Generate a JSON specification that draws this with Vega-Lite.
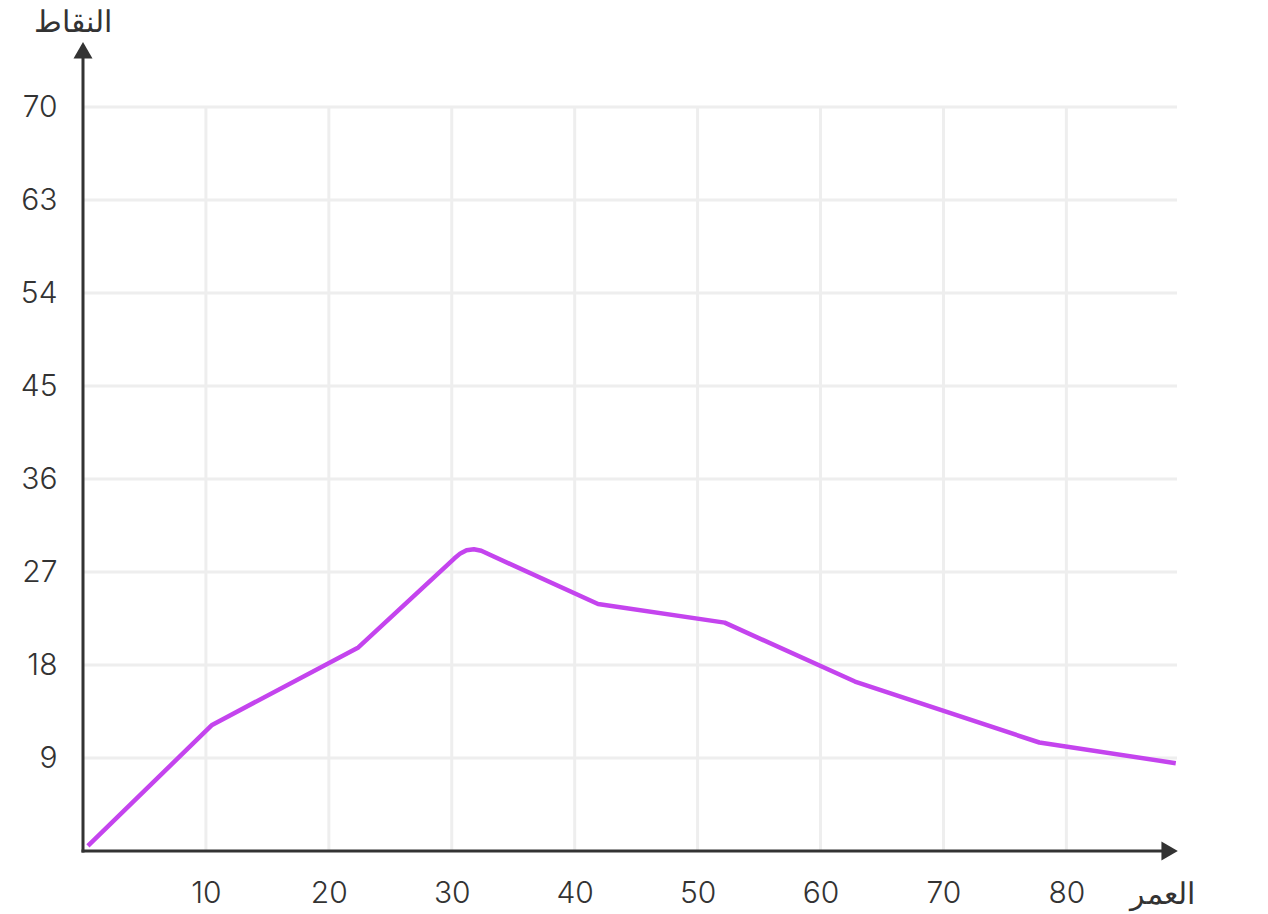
{
  "$schema": "https://vega.github.io/schema/vega-lite/v6.json",
  "width": 1094,
  "height": 806,
  "autosize": {"type": "none"},
  "padding": {"left": 83, "top": 45, "right": 91, "bottom": 63},
  "background": "white",
  "config": {"view": {"stroke": null}},
  "datasets": {
    "gridx": [{"v": 10}, {"v": 20}, {"v": 30}, {"v": 40}, {"v": 50}, {"v": 60}, {"v": 70}, {"v": 80}],
    "gridy": [{"v": 9}, {"v": 18}, {"v": 27}, {"v": 36}, {"v": 45}, {"v": 54}, {"v": 63}, {"v": 72}],
    "axes": [{"x1": 0, "y1": 0, "x2": 88.4, "y2": 0}, {"x1": 0, "y1": 0, "x2": 0, "y2": 77.5}],
    "series": [
      {"age": 0.4, "points": 0.5},
      {"age": 10.5, "points": 12.2},
      {"age": 22.4, "points": 19.7},
      {"age": 30.2, "points": 28.3},
      {"age": 30.7, "points": 28.8},
      {"age": 31.2, "points": 29.1},
      {"age": 31.8, "points": 29.2},
      {"age": 32.4, "points": 29.05},
      {"age": 41.9, "points": 23.9},
      {"age": 52.2, "points": 22.1},
      {"age": 62.8, "points": 16.4},
      {"age": 77.8, "points": 10.5},
      {"age": 88.9, "points": 8.5}
    ],
    "arrowx": [{"x": 88.4, "y": 0}],
    "arrowy": [{"x": 0, "y": 77.5}]
  },
  "encoding": {
    "x": {"type": "quantitative", "scale": {"domain": [0, 89], "nice": false, "zero": false},
      "axis": {"values": [10, 20, 30, 40, 50, 60, 70, 80], "domain": false, "ticks": false, "grid": false,
        "labelFont": "Inter", "labelFontSize": 30, "labelFontWeight": 300, "labelColor": "#333333", "labelPadding": 27,
        "title": "العمر", "titleFont": "Noto Sans", "titleFontSize": 30, "titleFontWeight": "normal", "titleColor": "#333333",
        "titleAngle": 0, "titleX": 1079, "titleY": 43, "titleAlign": "center", "titleBaseline": "middle"}},
    "y": {"type": "quantitative", "scale": {"domain": [0, 78], "nice": false, "zero": false},
      "axis": {"values": [9, 18, 27, 36, 45, 54, 63, 72], "domain": false, "ticks": false, "grid": false,
        "labelExpr": "datum.value == 72 ? '70' : datum.label",
        "labelFont": "Inter", "labelFontSize": 30, "labelFontWeight": 300, "labelColor": "#333333", "labelPadding": 26,
        "title": "النقاط", "titleFont": "Noto Sans", "titleFontSize": 30, "titleFontWeight": "normal", "titleColor": "#333333",
        "titleAngle": 0, "titleX": -11, "titleY": -23, "titleAlign": "center", "titleBaseline": "middle"}}
  },
  "layer": [
    {
      "data": {"name": "gridx"},
      "mark": {"type": "rule", "color": "#eeeeee", "strokeWidth": 3},
      "encoding": {
        "x": {"field": "v", "type": "quantitative"},
        "y": {"datum": 0, "type": "quantitative"},
        "y2": {"datum": 72}
      }
    },
    {
      "data": {"name": "gridy"},
      "mark": {"type": "rule", "color": "#eeeeee", "strokeWidth": 3},
      "encoding": {
        "y": {"field": "v", "type": "quantitative"},
        "x": {"datum": 0, "type": "quantitative"},
        "x2": {"datum": 89}
      }
    },
    {
      "data": {"name": "series"},
      "mark": {"type": "line", "color": "#c444ee", "strokeWidth": 4.5, "strokeJoin": "round"},
      "encoding": {
        "x": {"field": "age", "type": "quantitative"},
        "y": {"field": "points", "type": "quantitative"}
      }
    },
    {
      "data": {"name": "axes"},
      "mark": {"type": "rule", "color": "#333333", "strokeWidth": 3, "strokeCap": "square"},
      "encoding": {
        "x": {"field": "x1", "type": "quantitative"},
        "y": {"field": "y1", "type": "quantitative"},
        "x2": {"field": "x2"},
        "y2": {"field": "y2"}
      }
    },
    {
      "data": {"name": "arrowx"},
      "mark": {"type": "point", "shape": "triangle-right", "filled": true, "color": "#333333", "size": 360, "opacity": 1},
      "encoding": {
        "x": {"field": "x", "type": "quantitative"},
        "y": {"field": "y", "type": "quantitative"}
      }
    },
    {
      "data": {"name": "arrowy"},
      "mark": {"type": "point", "shape": "triangle-up", "filled": true, "color": "#333333", "size": 360, "opacity": 1},
      "encoding": {
        "x": {"field": "x", "type": "quantitative"},
        "y": {"field": "y", "type": "quantitative"}
      }
    }
  ]
}
